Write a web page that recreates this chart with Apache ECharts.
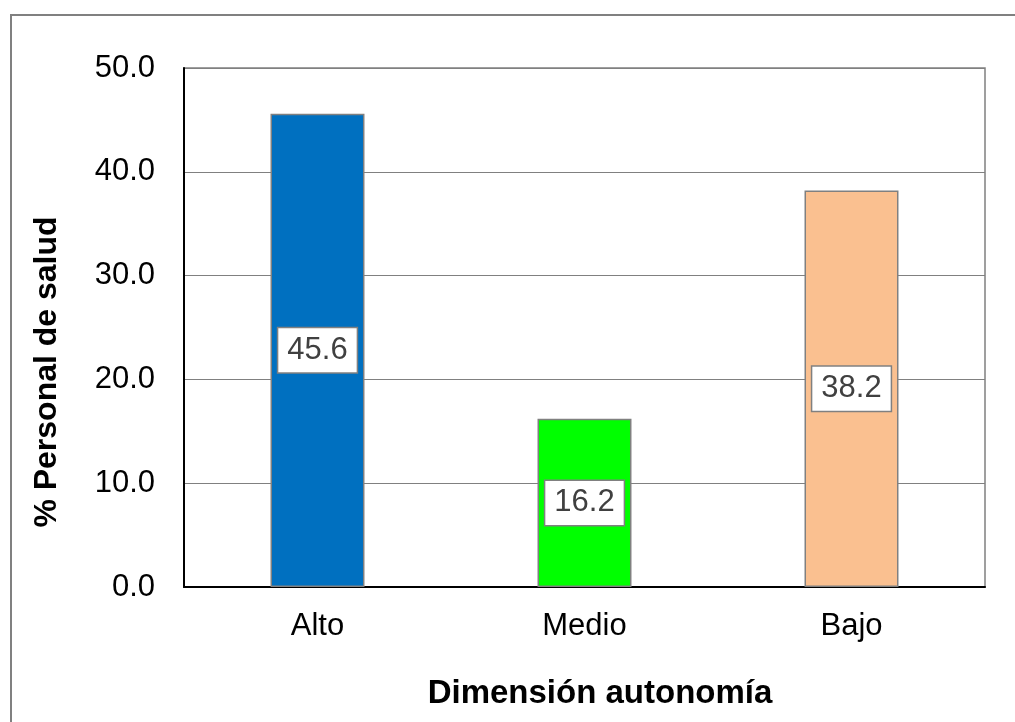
<!DOCTYPE html>
<html>
<head>
<meta charset="utf-8">
<script src="https://cdn.jsdelivr.net/npm/echarts@6/dist/echarts.min.js"></script>
<style>
  html, body { margin: 0; padding: 0; background: #fff; }
  #chart { width: 1015px; height: 722px; }
</style>
</head>
<body>
<div id="chart"></div>
<script>
// Levels of the autonomy dimension and share of health staff in each (%)
const categories = ['Alto', 'Medio', 'Bajo'];
const percentages = [45.6, 16.2, 38.2];
const barColors = ['#0070C0', '#00FF00', '#FAC090'];
const yTitle = '% Personal de salud';
const xTitle = 'Dimensión autonomía';

const FONT = '"Liberation Sans", Arial, sans-serif';

const chart = echarts.init(document.getElementById('chart'), null, { renderer: 'canvas' });

chart.setOption({
  backgroundColor: '#ffffff',
  animation: false,
  grid: {
    left: 184, top: 68, right: 30, bottom: 135,
    show: true, borderColor: '#808080', borderWidth: 1.5, backgroundColor: 'transparent'
  },
  xAxis: {
    type: 'category',
    data: categories,
    axisLine: { show: true, lineStyle: { color: '#000000', width: 2 } },
    axisTick: { show: false },
    axisLabel: { color: '#000000', fontFamily: FONT, fontSize: 31, margin: 24 }
  },
  yAxis: {
    type: 'value',
    min: 0, max: 50, interval: 10,
    axisLine: { show: true, lineStyle: { color: '#000000', width: 2 } },
    axisTick: { show: false },
    splitLine: { show: true, lineStyle: { color: '#808080', width: 1.2 } },
    axisLabel: {
      color: '#000000', fontFamily: FONT, fontSize: 31, margin: 29,
      formatter: v => v.toFixed(1)
    }
  },
  series: [{
    type: 'bar',
    barWidth: '35.2%',
    data: percentages.map((v, i) => ({ value: v, itemStyle: { color: barColors[i] } })),
    itemStyle: { borderColor: '#808080', borderWidth: 1.5 },
    label: {
      show: true,
      position: 'inside',
      formatter: p => p.value.toFixed(1),
      color: '#404040',
      fontFamily: FONT,
      fontSize: 31,
      backgroundColor: '#ffffff',
      borderColor: '#808080',
      borderWidth: 1.5,
      padding: [7, 9, 6, 9]
    }
  }],
  graphic: [
    {
      type: 'rect', silent: true, z: -1,
      shape: { x: 11, y: 15, width: 1100, height: 800 },
      style: { fill: 'none', stroke: '#808080', lineWidth: 2 }
    },
    {
      type: 'text', x: 47, y: 372, rotation: Math.PI / 2,
      style: {
        text: yTitle, fill: '#000000', font: 'bold 32px ' + FONT,
        textAlign: 'center', textVerticalAlign: 'middle'
      }
    },
    {
      type: 'text', x: 600, y: 694,
      style: {
        text: xTitle, fill: '#000000', font: 'bold 33px ' + FONT,
        textAlign: 'center', textVerticalAlign: 'middle'
      }
    }
  ]
});
</script>
</body>
</html>
